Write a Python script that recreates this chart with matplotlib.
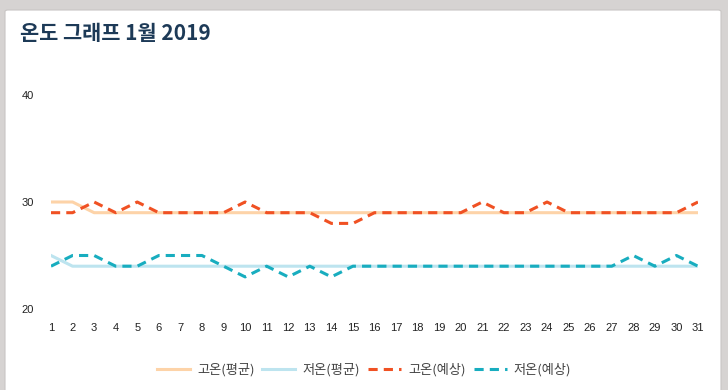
import matplotlib
matplotlib.use("Agg")
import matplotlib.pyplot as plt
from matplotlib.patches import FancyBboxPatch

plt.rcParams['font.family'] = ['Noto Sans CJK KR', 'DejaVu Sans']

days = list(range(1, 32))
high_avg = [30, 30] + [29] * 29
low_avg = [25] + [24] * 30
high_fc = [29, 29, 30, 29, 30, 29, 29, 29, 29, 30, 29, 29, 29, 28, 28, 29,
           29, 29, 29, 29, 30, 29, 29, 30, 29, 29, 29, 29, 29, 29, 30]
low_fc = [24, 25, 25, 24, 24, 25, 25, 25, 24, 23, 24, 23, 24, 23, 24, 24,
          24, 24, 24, 24, 24, 24, 24, 24, 24, 24, 24, 25, 24, 25, 24]
series_names = ['고온(평균)', '저온(평균)', '고온(예상)', '저온(예상)']
y_ticks = [20, 30, 40]
title = '온도 그래프 1월 2019'

W, H = 728, 390
fig = plt.figure(figsize=(W / 100, H / 100), dpi=100)
fig.patch.set_facecolor('#d6d3d2')

card = FancyBboxPatch((5 / W, -0.05), (721 - 5) / W, (H - 10) / H + 0.05,
                      boxstyle='round,pad=0,rounding_size=0.004',
                      transform=fig.transFigure, facecolor='white',
                      edgecolor='#c8c5c4', linewidth=0.8, zorder=-5)
fig.patches.append(card)

ax = fig.add_axes([51 / W, 81 / H, (698 - 51) / W, (309 - 95) / H])
ax.set_zorder(2)
ax.set_facecolor('none')
ax.plot(days, high_avg, color='#fdd3a8', lw=2.2, label=series_names[0], zorder=2)
ax.plot(days, low_avg, color='#bde4ef', lw=2.2, label=series_names[1], zorder=2)
ax.plot(days, high_fc, color='#f05123', lw=2.2, ls=(0, (3, 2)), label=series_names[2], zorder=3)
ax.plot(days, low_fc, color='#18adbf', lw=2.2, ls=(0, (3, 2)), label=series_names[3], zorder=3)

ax.set_xlim(1, 31)
ax.set_ylim(20, 40)
ax.set_xticks(days)
ax.set_xticklabels([str(d) for d in days], fontsize=8, color='#222222',
                   family=['Liberation Sans', 'DejaVu Sans'])
ax.set_yticks(y_ticks)
ax.set_yticklabels([str(t) for t in y_ticks], fontsize=8, color='#222222',
                   family=['Liberation Sans', 'DejaVu Sans'])
ax.tick_params(axis='both', length=0)
ax.tick_params(axis='x', pad=10)
for s in ax.spines.values():
    s.set_visible(False)
for lbl in ax.get_yticklabels():
    lbl.set_horizontalalignment('left')
ax.tick_params(axis='y', pad=21)

fig.text(20 / W, 1 - 34 / H, title, fontsize=15, fontweight='bold',
         color='#1d3a57', va='center', ha='left')

leg = fig.legend(loc='center', bbox_to_anchor=(0.5, 1 - 370 / H), ncol=4,
                 frameon=False, fontsize=9.5, handlelength=2.5, columnspacing=0.6,
                 handletextpad=0.55)
for t in leg.get_texts():
    t.set_color('#444444')

fig.savefig('out.png', dpi=100, facecolor=fig.get_facecolor())
